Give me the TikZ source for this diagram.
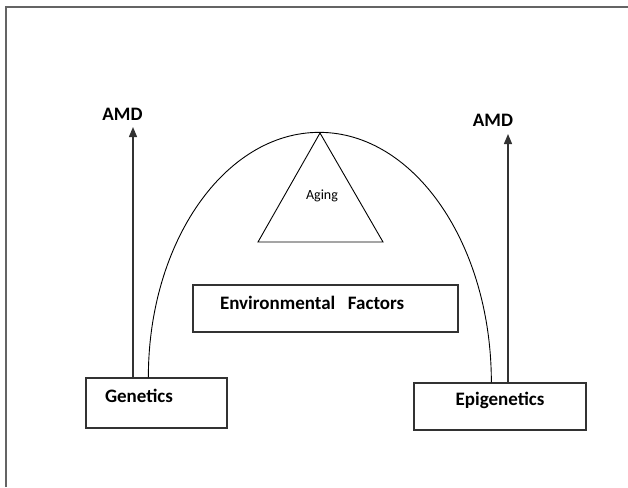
\documentclass[tikz,border=0pt]{standalone}
\usepackage{fontspec}
\setmainfont{Carlito}
\usepackage{tikz}
\usetikzlibrary{arrows.meta}

\begin{document}
\begin{tikzpicture}[x=1pt,y=-1pt]
    \definecolor{marco}{RGB}{100,100,100}   % frame
    \definecolor{linea}{RGB}{50,50,50}      % boxes and arrows
    \tikzset{caja/.style={draw=linea, line width=1.3pt, inner xsep=0pt, inner ysep=0pt,
                          font=\fontsize{19}{22}\selectfont\bfseries},
             flecha/.style={-{Triangle[length=10pt,width=8pt]}, line width=1.3pt, draw=linea}}

    \useasboundingbox (0,0) rectangle (628,487);
    \draw[marco, line width=2pt] (6,487) -- (6,7) -- (628,7);

    \node (gen) at (156.5,403) [caja, text width=103pt, inner xsep=19pt, align=left,
                                text height=24pt, text depth=26pt] {Genetics};
    \node (epi) at (500,406.5) [caja, text width=172pt, align=center,
                                text height=22pt, text depth=25pt] {Epigenetics};
    \node (env) at (325.5,308.5) [caja, text width=211pt, inner xsep=27pt, align=left,
                                  text height=24pt, text depth=23pt] {Environmental~~Factors};

    \node (amdL) at (122.5,114) [font=\fontsize{19}{22}\selectfont\bfseries] {AMD};
    \node (amdR) at (493,120) [font=\fontsize{19}{22}\selectfont\bfseries] {AMD};

    \coordinate (tipL) at (133,127);
    \coordinate (tipR) at (508,134);
    \draw[flecha] (gen.north -| tipL) -- (tipL);
    \draw[flecha] (epi.north -| tipR) -- (tipR);

    % arch over the boxes
    \coordinate (cima) at (320,133);
    \draw[line width=0.9pt] (gen.north west) ++(63,0)
        arc[start angle=180, end angle=270, x radius=171, y radius=245]
        arc[start angle=270, end angle=360, x radius=172, y radius=250];

    \draw[line width=0.9pt] (cima) -- (258,242) -- (383,242) -- cycle;
    \node (aging) at (322,196) [font=\fontsize{14}{16}\selectfont] {Aging};
\end{tikzpicture}
\end{document}
